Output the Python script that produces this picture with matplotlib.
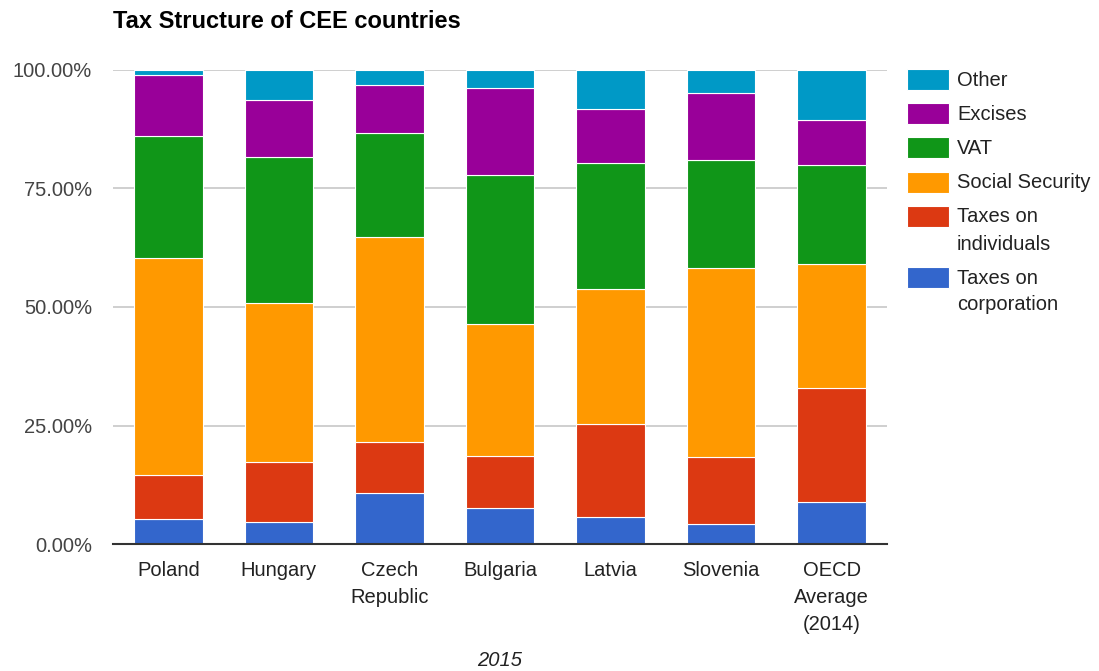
import matplotlib
matplotlib.use("Agg")
import matplotlib.pyplot as plt
from matplotlib.patches import Rectangle
from matplotlib.ticker import FuncFormatter
import numpy as np

plt.rcParams["font.family"] = ["Liberation Sans", "DejaVu Sans"]

# Share of total tax revenue (%), 2015
countries = ["Poland", "Hungary", "Czech\nRepublic", "Bulgaria", "Latvia", "Slovenia",
             "OECD\nAverage\n(2014)"]
corporation = [5.4, 4.8, 10.8, 7.6, 5.7, 4.2, 8.9]
individuals = [9.2, 12.6, 10.7, 11.1, 19.6, 14.2, 24.0]
social_security = [45.8, 33.5, 43.3, 27.8, 28.4, 39.8, 26.2]
vat = [25.6, 30.7, 21.8, 31.3, 26.6, 22.7, 20.8]
excises = [12.9, 12.0, 10.1, 18.3, 11.4, 14.2, 9.5]
other = [1.1, 6.4, 3.3, 3.9, 8.3, 4.9, 10.6]

series = [
    ("Taxes on\ncorporation", corporation, "#3366cc"),
    ("Taxes on\nindividuals", individuals, "#dc3912"),
    ("Social Security", social_security, "#ff9900"),
    ("VAT", vat, "#109618"),
    ("Excises", excises, "#990099"),
    ("Other", other, "#0099c6"),
]

W, H = 1099, 671
fig = plt.figure(figsize=(W / 100, H / 100), dpi=100)


def fx(px):
    return px / W


def fy(py):
    return 1 - py / H


ax = fig.add_axes([fx(113), fy(544.3), fx(774), 474.6 / H])

x = np.arange(len(countries))
bottom = np.zeros(len(countries))
for name, vals, color in series:
    vals = np.array(vals)
    ax.bar(x, vals, width=0.62, bottom=bottom, color=color,
           edgecolor="white", linewidth=0.8, zorder=3)
    bottom += vals

ax.set_xlim(-0.5, len(countries) - 0.5)
ax.set_ylim(0, 100)
ax.set_yticks([0, 25, 50, 75, 100])
ax.yaxis.set_major_formatter(FuncFormatter(lambda v, _: f"{v:.2f}%"))
ax.grid(axis="y", color="#cccccc", linewidth=1.3, zorder=0)
ax.set_axisbelow(True)
for side in ["top", "right", "left"]:
    ax.spines[side].set_visible(False)
ax.spines["bottom"].set_color("#333333")
ax.spines["bottom"].set_linewidth(1.5)
ax.spines["bottom"].set_zorder(4)

ax.set_xticks(x)
ax.set_xticklabels(countries, fontsize=14.5, color="#222222", linespacing=1.55)
ax.tick_params(axis="x", length=0, pad=12)
ax.tick_params(axis="y", length=0, pad=15, labelsize=14.5, labelcolor="#444444")

fig.text(fx(113), fy(22), "Tax Structure of CEE countries", fontsize=17,
         fontweight="bold", color="#000000", va="center", ha="left")
fig.text(fx(500), fy(660), "2015", fontsize=14.5, style="italic",
         color="#222222", ha="center", va="center")

# legend, top entry first
legend_rows = [69, 103, 137, 172, 206, 267]
for (name, _, color), top in zip(reversed(series), legend_rows):
    fig.add_artist(Rectangle((fx(907), fy(top + 20.5)), fx(42), 20.5 / H,
                             transform=fig.transFigure, facecolor=color,
                             edgecolor="white", linewidth=0.8))
    for i, line in enumerate(name.split("\n")):
        fig.text(fx(957), fy(top + 11 + i * 27), line, fontsize=14.5,
                 color="#222222", ha="left", va="center")

fig.savefig("out.png", dpi=100)
